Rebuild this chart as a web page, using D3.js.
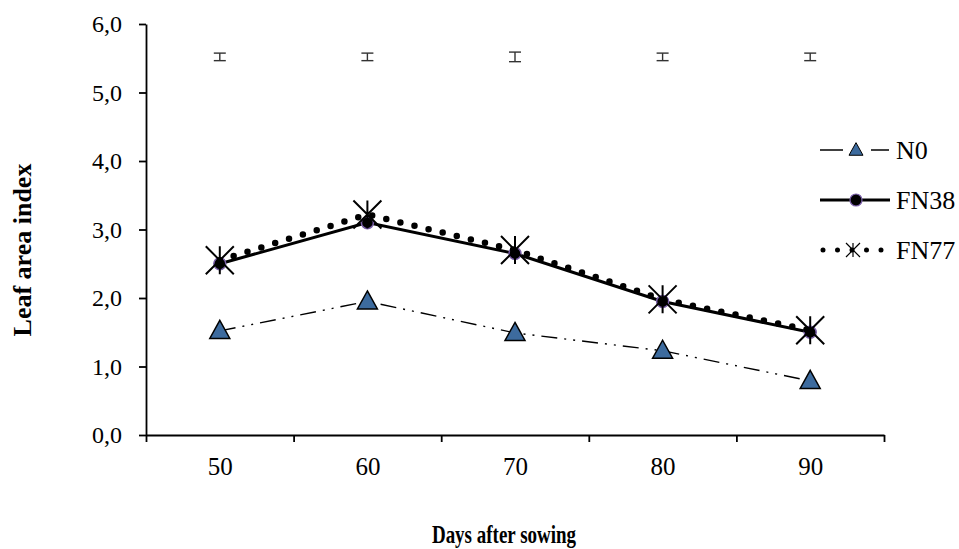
<!DOCTYPE html>
<html>
<head>
<meta charset="utf-8">
<script src="https://cdn.jsdelivr.net/npm/d3@7"></script>
<style>
  body { margin: 0; background: #fff; }
</style>
</head>
<body>
<div id="chart"></div>
<script>
var days = [50, 60, 70, 80, 90],
  n0 = [1.52, 1.95, 1.49, 1.23, 0.79],
  fn38 = [2.5, 3.1, 2.65, 1.95, 1.5],
  fn77 = [2.55, 3.22, 2.7, 1.98, 1.53],
  // LSD-style bars drawn along the top
  barMid = [5.52, 5.52, 5.52, 5.52, 5.52],
  barHalf = [0.055, 0.055, 0.07, 0.055, 0.055],
  yTicks = [0, 1, 2, 3, 4, 5, 6],
  seriesNames = ["N0", "FN38", "FN77"];

var w = 959, h = 549,
  serif = "'Liberation Serif', 'Times New Roman', Times, 'DejaVu Serif', serif";

var svg = d3.select("#chart").append("svg")
  .attr("width", w)
  .attr("height", h)
  .style("font-family", serif);

var x = d3.scaleLinear().domain([45, 95]).range([146, 884]);
var y = d3.scaleLinear().domain([0, 6]).range([435, 24]);

// y axis
var yAxis = svg.append("g")
  .attr("transform", "translate(146,0)")
  .call(d3.axisLeft(y).tickValues(yTicks).tickSize(7).tickSizeOuter(0)
    .tickFormat(function (d) { return d.toFixed(1).replace(".", ","); }));
yAxis.selectAll("text").attr("font-size", 24).attr("x", -24).attr("dy", "0.33em");

// x axis: boundary ticks, labels in the middle
svg.append("g")
  .attr("transform", "translate(0,435)")
  .call(d3.axisBottom(x).tickValues([45, 55, 65, 75, 85, 95]).tickSize(7)
    .tickSizeOuter(0).tickFormat(""));
svg.append("g")
  .attr("transform", "translate(0,435)")
  .call(d3.axisBottom(x).tickValues(days).tickSize(0).tickFormat(d3.format("d")))
  .call(function (g) { g.select(".domain").remove(); })
  .selectAll("text").attr("font-size", 25).attr("dy", "0").attr("y", 40);

svg.selectAll("g").attr("font-family", serif);
svg.selectAll("text").attr("fill", "#000");
svg.selectAll(".domain, .tick line")
  .attr("stroke", "#000").attr("stroke-width", 1.8);

// axis titles
svg.append("text")
  .attr("transform", "translate(504,543) scale(0.76,1)")
  .attr("text-anchor", "middle")
  .attr("font-size", 25).attr("font-weight", "bold")
  .text("Days after sowing");
svg.append("text")
  .attr("transform", "translate(31,250) rotate(-90)")
  .attr("text-anchor", "middle")
  .attr("font-size", 26).attr("font-weight", "bold")
  .text("Leaf area index");

// error bars at top
var eb = svg.append("g").attr("stroke", "#333").attr("stroke-width", 1.4);
days.forEach(function (d, i) {
  var cx = x(d), t = y(barMid[i] + barHalf[i]), b = y(barMid[i] - barHalf[i]);
  eb.append("line").attr("x1", cx).attr("x2", cx).attr("y1", t).attr("y2", b);
  eb.append("line").attr("x1", cx - 6).attr("x2", cx + 6).attr("y1", t).attr("y2", t);
  eb.append("line").attr("x1", cx - 6).attr("x2", cx + 6).attr("y1", b).attr("y2", b);
});

var line = d3.line()
  .x(function (d, i) { return x(days[i]); })
  .y(function (d) { return y(d); });

function tri(cx, cy, s) {
  var hw = 10 * s, hh = 8.5 * s;
  return "M" + cx + "," + (cy - hh - 2 * s) + "L" + (cx + hw) + "," + (cy + hh - 1 * s) +
    "L" + (cx - hw) + "," + (cy + hh - 1 * s) + "Z";
}
function star(cx, cy, r) {
  return "M" + (cx - r) + "," + (cy - r) + "L" + (cx + r) + "," + (cy + r) +
    "M" + (cx + r) + "," + (cy - r) + "L" + (cx - r) + "," + (cy + r) +
    "M" + cx + "," + (cy - r) + "L" + cx + "," + (cy + r);
}

// N0
svg.append("path").datum(n0)
  .attr("d", line).attr("fill", "none")
  .attr("stroke", "#000").attr("stroke-width", 1.4)
  .attr("stroke-dasharray", "16 7 2 7 2 7");
svg.selectAll(".tri").data(n0).enter().append("path")
  .attr("d", function (d, i) { return tri(x(days[i]), y(d), 1); })
  .attr("fill", "#3d6b9e").attr("stroke", "#000").attr("stroke-width", 1.5);

// FN38
svg.append("path").datum(fn38)
  .attr("d", line).attr("fill", "none")
  .attr("stroke", "#000").attr("stroke-width", 3);
svg.selectAll(".dot").data(fn38).enter().append("circle")
  .attr("cx", function (d, i) { return x(days[i]); })
  .attr("cy", function (d) { return y(d); })
  .attr("r", 6).attr("fill", "#000").attr("stroke", "#7a5fa8").attr("stroke-width", 1.5);

// FN77
svg.append("path").datum(fn77)
  .attr("d", line).attr("fill", "none")
  .attr("stroke", "#000").attr("stroke-width", 6.5)
  .attr("stroke-linecap", "round")
  .attr("stroke-dasharray", "0 14.5");
svg.selectAll(".star").data(fn77).enter().append("path")
  .attr("d", function (d, i) { return star(x(days[i]), y(d), 14); })
  .attr("fill", "none").attr("stroke", "#000").attr("stroke-width", 2);

// legend
var lg = svg.append("g");
var ly = [150, 200, 250];
lg.append("line").attr("x1", 820).attr("x2", 843).attr("y1", ly[0]).attr("y2", ly[0])
  .attr("stroke", "#000").attr("stroke-width", 1.5);
lg.append("line").attr("x1", 871).attr("x2", 889).attr("y1", ly[0]).attr("y2", ly[0])
  .attr("stroke", "#000").attr("stroke-width", 1.5);
lg.append("path").attr("d", tri(856, ly[0], 0.7))
  .attr("fill", "#3d6b9e").attr("stroke", "#000").attr("stroke-width", 1);

lg.append("line").attr("x1", 820).attr("x2", 890).attr("y1", ly[1]).attr("y2", ly[1])
  .attr("stroke", "#000").attr("stroke-width", 3);
lg.append("circle").attr("cx", 856).attr("cy", ly[1]).attr("r", 6)
  .attr("fill", "#000").attr("stroke", "#7a5fa8").attr("stroke-width", 1.2);

lg.append("line").attr("x1", 823).attr("x2", 889).attr("y1", ly[2]).attr("y2", ly[2])
  .attr("stroke", "#000").attr("stroke-width", 5)
  .attr("stroke-linecap", "round").attr("stroke-dasharray", "0 14.5");
lg.append("path").attr("d", star(853, ly[2], 7))
  .attr("fill", "none").attr("stroke", "#000").attr("stroke-width", 1.2);

lg.selectAll(".lt").data(seriesNames).enter().append("text")
  .attr("x", 896).attr("y", function (d, i) { return ly[i]; })
  .attr("dy", "0.33em").attr("font-size", 26).attr("fill", "#000")
  .text(function (d) { return d; });
</script>
</body>
</html>
